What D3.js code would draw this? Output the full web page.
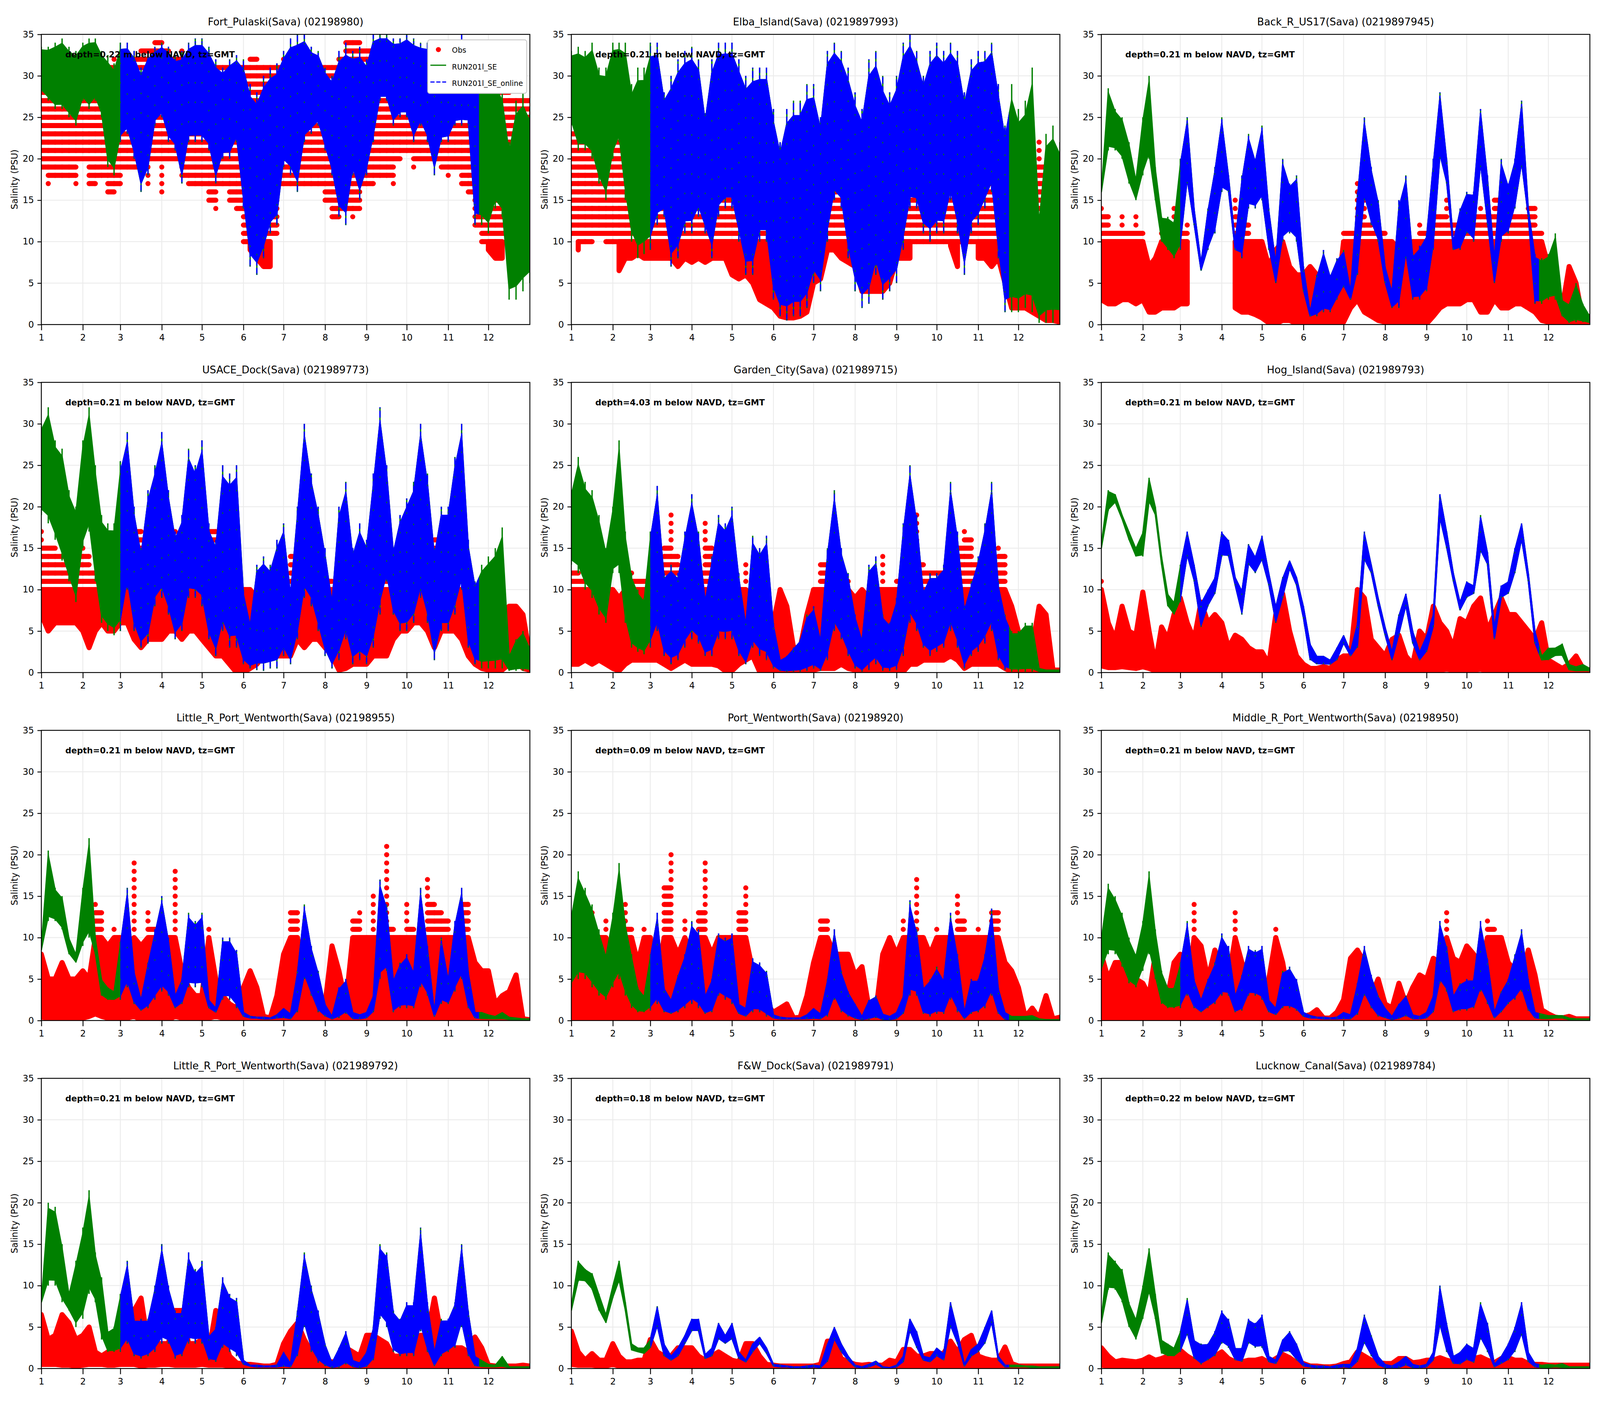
<!DOCTYPE html>
<html>
<head>
<meta charset="utf-8">
<script src="https://cdn.jsdelivr.net/npm/d3@7"></script>
<style>
  html, body { margin: 0; padding: 0; background: #fff; overflow: hidden; }
  text { font-family: "DejaVu Sans"; fill: #000; }
</style>
</head>
<body>
<div id="chart"></div>
<script>
// Month starts in day of year, and six readings per month plus the last day
var monthStarts = [0, 31, 59, 90, 120, 151, 181, 212, 243, 273, 304, 334, 365];
var monthLabels = ["1", "2", "3", "4", "5", "6", "7", "8", "9", "10", "11", "12"];
var salinityTicks = [0, 5, 10, 15, 20, 25, 30, 35];
var onlineDays = [59, 327];

var titles = ["Fort_Pulaski(Sava) (02198980)", "Elba_Island(Sava) (0219897993)", "Back_R_US17(Sava) (0219897945)",
  "USACE_Dock(Sava) (021989773)", "Garden_City(Sava) (021989715)", "Hog_Island(Sava) (021989793)",
  "Little_R_Port_Wentworth(Sava) (02198955)", "Port_Wentworth(Sava) (02198920)", "Middle_R_Port_Wentworth(Sava) (02198950)",
  "Little_R_Port_Wentworth(Sava) (021989792)", "F&W_Dock(Sava) (021989791)", "Lucknow_Canal(Sava) (021989784)"];
var depths = ["0.22", "0.21", "0.21", "0.21", "4.03", "0.21", "0.21", "0.09", "0.21", "0.21", "0.18", "0.22"];
var legendLabels = ["Obs", "RUN201l_SE", "RUN201l_SE_online"];

var p1SimHi = [33.5,33.5,34,34.5,33.5,33, 34,34.5,34.5,33,32.5,31.5, 34,34,33,31,33,33.5, 34,33.5,32.5,33,34,34.5, 34.5,33.5,32,31,32,32.5, 32,29,28,30,31,31.5, 33,34.5,35,35,33.5,33, 31,30,33,34,33,33.5, 32,35,35,35,34.5,34.5, 35,34.5,34,34,33,31, 33,33,35,34,33,30, 30,30,28,22,27,28, 26];
var p1SimLo = [28,27,26,26,25,24, 27,26,27,25,19,18, 22,23,20,16,18,24, 25,22,21,17,22,22, 22,21,17,20,20,22, 14,7,6,8,11,12, 19,18,16,22,23,24, 21,18,13,12,18,15, 18,22,27,27,24,25, 25,22,24,22,18,22, 22,24,24,24,12,12, 11,14,13,3,3,4, 5];
var p1ObsHi = [30,30,29,29,29,28, 28,28,30,30,31,32, 31,31,32,33,33,34, 34,33,32,33,32,32, 32,32,31,31,31,31, 31,32,32,31,31,31, 32,32,32,31,31,31, 31,31,32,34,34,34, 33,33,32,32,32,32, 31,31,31,31,30,30, 30,30,30,30,29,29, 28,28,28,28,27,27, 27];
var p1ObsLo = [19,17,18,18,18,17, 20,17,17,18,16,16, 17,19,19,19,17,20, 16,20,20,18,17,17, 17,15,14,17,15,14, 10,9,8,7,7,11, 17,17,17,17,17,17, 15,13,13,14,13,14, 17,17,18,18,17,20, 21,19,20,20,20,19, 18,19,17,16,12,10, 9,8,8,11,11,11, 11];

var p2SimHi = [33,33.5,33,34,31,31, 34,34,34,29,31,31, 34,34,28,30,32,33, 33.5,32,25.5,32,34,34, 34,32,30,31,31,31, 26,22,26,27,27,29, 29,25,33,34,33,31, 28,26,32,33,30,28, 30,34,35,33,30,33, 34,33,34,33,28,32, 33,33,34,29,24,29, 26,27,31,13,23,24, 22];
var p2SimLo = [24,21,21,20,17,15, 20,22,15,10,8,8.5, 9,12,13,7,8,11, 11,13,11,8,13,14, 14,10,6,6,10,10, 3,1,0.5,1,1,2, 5,4,10,15,14,8, 4,2,2.5,6,3,4, 5,9,14,14,11,10, 11,11,15,11,6,11, 12,14,16,8,1.5,1.5, 1.5,2,1.5,0.2,0.2,0.2, 0.3];
var p2ObsHi = [23,23,23,22,22,22, 23,22,22,22,22,22, 22,22,26,23,22,22, 22,22,22,21,21,21, 22,22,22,23,23,23, 23,21,20,20,20,21, 23,23,25,25,22,22, 22,23,23,22,22,22, 22,22,21,21,20,21, 21,21,20,20,20,21, 22,22,22,23,21,20, 20,20,19,22,19,18, 18];
var p2ObsLo = [11,9,10,10,11,10, 10,6.5,8,8,8.5,8, 8,8,8,8,7,8, 7.5,8,7.5,8,8,8, 6,5.5,6,5,3,2.5, 2,1,0.8,0.8,1,1.5, 5,5.5,9,9,8,7.5, 7,4,4,4,4,5, 8,8,8,10,10,10, 10,10,9.5,7,10,10, 8,8,7,8,5,2, 2,2,1.5,1,0.5,0.5, 0.3];

var p3SimHi = [16,28.5,26,25,22,17.5, 25,30,19,13,13,12.5, 20,25,14,7.5,14,19, 25,18,10,18,23,20, 24,14,7.5,20,17,18, 7,1.5,6,9,6,8, 9,4,16,25,19,15, 7,4,15,18,8.5,9.5, 11,20,28,20,10,14, 16,16,26,18,8,20, 17,20,27,14,8.5,8, 8.5,11,3,2.5,5,2.5, 1];
var p3SimLo = [16,21,21,20,17,15, 18,20,15,10,9,8, 9,17,12,6.5,9,11, 16,16,9,8,14,14, 15,9,5,10,11,10, 4,1,1,1.5,1.5,3, 4.5,3,6,15,12,10, 5,2,2,8,3,3, 4,9,20,17,9,9, 11,10,19,12,5,10, 11,14,19,13,2.5,2.5, 3,3,1,0.2,0.3,0.3, 0.2];
var p3ObsHi = [14,13,11,13,11,13, 11,7,8,11,11,14, 11,12,null,null,null,null, null,null,15,13,12,10, 10,7,9,11,7,6, 6,7,6,2,1.5,3, 11,11,17,15,12,11, 11,10,9,9,10,12, 11,15,13,15,12,12, 13,13,14,13,15,15, 14,13,13,14,14,11, 7,5,2,7,5,0.5, 1];
var p3ObsLo = [3,2.5,2.5,3,3,2.5, 3,1.5,1.5,2,2,2, 2.5,2.5,null,null,null,null, null,null,2,1.5,1.5,1.2, 0.8,0.2,0.1,0.5,0.5,0.1, 0.1,0.1,0.1,0.2,0.2,0.2, 0.3,2,3,1.5,1,0.5, 0.3,0.2,0.2,0.2,0.2,0.1, 0.1,1,2,2.5,2.5,2.5, 3,3,1.5,1.5,3,2, 2,2.5,2.5,2,1.5,0.5, 0.3,0.1,0.1,0.1,0.1,0.1, 0.1];

var p4SimHi = [30,32,28,27,22,20, 28,32,25,19,18,18, 25.5,29,20,15,22,25, 29,22,17,19,27,25, 28,18,16,25,24,25, 10,6,13,14,13,16, 18,10,20,30,24,20, 15,9,20,23,15,18, 16,24,32,25,15,19, 21,23,30,24,15,20, 20,26,30,16,11,13, 14,15,17.5,2,4,5, 3];
var p4SimLo = [19,18,16,13.5,11,8.5, 15,17,11,6,5,4.5, 5,10,5,3,3.5,8, 9,7,4,5,9,9, 8,4,2,5,3,3, 1,0.5,0.3,0.2,0.5,0.5, 2,1,4,9,8,5, 2,0.5,1.5,4,1,1.5, 1,3,7,11,7,5, 5,6,9,6,1.5,5, 5,7,10,3,1,0.5, 0.5,0.5,0.5,0.2,0.2,0.2, 0.2];
var p4ObsHi = [17,15,15,14,14,14, 15,14,12,11,11,11, 12,13,17,17,16,15, 15,15,17,16,15,15, 16,17,17,15,14,13, 10,10,9,8,8,7, 10,14,16,16,14,13, 12,11,10,10,11,12, 13,14,14,15,14,14, 15,15,14,15,16,16, 15,14,14,13,10,8, 6,5,7,8,8,7, 2];
var p4ObsLo = [7,5,6,6,6,6, 5,3,5,6,5,5, 6,6,4,3,4,4, 4,5,5,4,5,5, 4,3,2,2,1,0, 0,0.5,1,2,2,2, 2,2,4,3,4,4, 3,2,0.3,0.5,1,1, 1,2,2,2,4,5, 5,6,6,5,3,5, 5,5,4,2,1,0.5, 0.3,0.3,0.3,1,1.5,0.5, 0.3];

var p5SimHi = [22,26,23,22,19,15, 20,28,17,12,10,9, 17,22.5,12,13,12,17, 21.5,17,9,14,19,18, 20,12,6,16.5,15,16.5, 6,1.5,2,3,4,7, 8,4,15,22,15,12, 7,4,13,14,7,6, 9,18,25,19,10,12, 12,13,23,17,8,11, 14,18,23,11,7,5, 5,6,6,0.5,0.3,0.3, 0.3];
var p5SimLo = [13,12,10,9,7,6, 12,12,6,3,2.5,2.2, 3,5,2,1,1.5,3, 4,3.5,2,2,4,4, 4,2,1,3,2,1.5, 0.5,0.2,0.1,0.1,0.1,0.2, 0.5,0.2,1.5,5,4,2, 0.5,0.1,0.3,1,0.2,0.2, 0.3,2,6,5,3,2, 2.5,3,5,3,0.5,2, 2.5,3.5,5,1.5,0.3,0.1, 0.1,0.1,0.1,0.1,0.1,0.1, 0.1];
var p5ObsHi = [12,12,11,12,11,10, 10,9,10,12,11,11, 11,11,15,19,14,12, 11,12,18,15,10,12, 10,10,13,8,6,8, 6,10,8,3,3,7, 10,13,13,12,12,11, 9,10,9,10,14,10, 11,12,11,19,13,12, 12,12,12,15,17,16, 13,12,12,15,14,8, 5,3,3,8,7,0.3, 0.3];
var p5ObsLo = [1,1,1.5,1,1.5,1, 0.5,0.2,1,1.5,1.5,1.5, 1.5,1.5,1,0.5,1,1.5, 1,1,1,1,0.8,0.2, 0.2,1,1.5,2,0.1,0.1, 0.1,0.1,0.1,0.1,0.1,0.1, 0.3,0.5,0.5,0.5,1,0.5, 0.3,0.1,0.1,0.1,0.1,0.1, 0.1,0.1,1,1,1.5,1.5, 1.5,1.5,2,1.5,0.5,1, 1,1,1,1,0.5,0.1, 0.1,0.1,0.1,0.2,0.5,0.1, 0.1];

var p6SimHi = [15.5,22,21.5,19,17,15, 17,23.5,20,14,9.5,8.5, 13,17,13,8.5,10,11.5, 17,16,11.5,10,15.5,14, 16.5,12,8,11.5,13.5,11.5, 8,3.5,2,2,1.5,3, 4.5,2.5,6,17,13,9, 5.5,2.5,7,9.5,5,2.5, 4.5,7,21.5,17,12,8.5, 11,10.5,19,14.5,5.5,10.5, 11,15,18,12,5,2, 3,3,3.5,1,0.7,1, 0.5];
var p6SimLo = [15,19.5,20.5,18.5,16,14, 14,20.5,19,13,8,7, 8.5,14,11,5.5,8,9.5, 14,14,10.5,7,13,12, 13.5,10.5,6,9,12.5,10.5, 6.5,1.5,1,1,1,1.5, 3.5,2,3,13.5,12,8, 4.5,1.5,4.5,8,3.5,1.5, 2.5,5.5,18.5,15,11,7.5, 9,9.5,14.5,13,4,9, 9.5,12,16,11,3.5,1.5, 1.5,2,2,0.3,0.2,0.2, 0.2];
var p6ObsHi = [11,6,4,8,5,4.5, 9.7,5,1,5.5,4,7, 9,6,4,8.5,6,7, 6,3,4.5,4,3,2.5, 2.5,1,7,9.5,5,2, 1,0.5,0.5,0.7,0.5,1.5, 2,2,10,9,4,3, 2,4,4.5,2,1,5, 4,8,6,5,3,6.5, 6,8,9,5,7,9, 7,7,6,5,4,6, 1.5,1,0.5,1,2,0.5, 0.3];
var p6ObsLo = [0.8,0.6,0.6,0.7,0.6,0.5, 0.7,0.5,0.2,0.1,0.1,0.1, 0.1,0.1,0.4,0.2,0.2,0.2, 0.3,0.3,0.2,0.1,0.1,0.1, 0.1,0.1,0.1,0.2,0.1,0.1, 0.1,0.1,0.1,0.1,0.1,0.1, 0.2,0.2,0.3,0.3,0.2,0.1, 0.1,0.1,0.1,0.1,0.1,0.1, 0.1,0.1,0.3,0.4,0.3,0.3, 0.3,0.3,0.4,0.2,0.1,0.1, 0.2,0.3,0.3,0.2,0.1,0.1, 0.1,0.1,0.1,0.1,0.1,0.1, 0.1];

var p7SimHi = [9,20.5,16,15,10,8, 16,22,10,5,4,3.5, 9.5,16,6,2.5,7,11, 15,10,3,5,13,12, 13,2.5,1.5,10,10,8.5, 1,0.5,0.4,0.4,0.3,0.7, 1.5,0.8,6,14,9,6, 2,0.5,4,5,1,0.7, 1,3,17,14,5,7, 8,6,16,9,1,10, 5,12,16,6,1,1, 0.7,0.5,1,0.4,0.3,0.2, 0.2];
var p7SimLo = [8.5,12,12,11,8,7, 9,10,8,3,2.5,2.5, 2.5,4,2,1.2,1.5,2.5, 3.5,3,1.5,2,4,4, 4,1.5,1,2.5,2.5,1.5, 0.5,0.3,0.3,0.2,0.2,0.3, 0.3,0.2,1,5,3,1, 0.5,0.2,0.3,0.8,0.2,0.2, 0.3,1,5,6,1,1.5, 1.5,1.5,4,3,0.5,2, 2,3.5,5,1.5,0.3,0.2, 0.2,0.2,0.2,0.1,0.1,0.1, 0.1];
var p7ObsHi = [8,5,5,7,5,5, 6,5,14,13,9,11, 10,9,19,9,13,11, 6,10,18,6,4,3, 3,11,5,3,2,1.5, 4,6,4,0.5,0.3,3, 8,13,13,5,4,3, 2,9,6,2,12,13, 10,15,10,21,11,10, 14,11,10,17,14,13, 12,10,14,14,7,6, 6,2,3,3.5,5.5,0.2, 0.1];
var p7ObsLo = [0.4,0.3,0.3,0.3,0.3,0.3, 0.3,0.5,0.8,0.5,0.3,0.1, 0.1,0.3,0.5,0.1,0.1,0.1, 0.1,0.1,0.5,0.3,0.1,0.1, 0.1,0.3,0.5,0.3,0.1,0.1, 0.1,0.1,0.1,0.2,0.2,0.2, 0.2,0.2,0.3,0.3,0.2,0.1, 0.1,0.1,0.1,0.1,0.1,0.1, 0.1,0.1,0.3,0.3,0.2,0.2, 0.2,0.2,0.2,0.2,0.1,0.1, 0.1,0.2,0.2,0.1,0.1,0.1, 0.1,0.1,0.1,0.1,0.1,0.1, 0.1];

var p8SimHi = [13,18,16,14,11,8, 13,19,12,8,4,3, 8,13,4,2.5,5.5,8, 12,11,3,5,10.5,10, 10.5,2,1.5,7.5,7,6, 0.7,0.4,0.3,0.3,0.3,0.7, 1.5,0.8,5,11,6,3.5, 2,0.5,2.5,3,0.8,0.5, 1,3,14.5,11,4,5, 6.5,5,13,8,1,5, 5,8,13.5,4,1,0.5, 0.5,0.5,0.6,0.2,0.1,0.1, 0.1];
var p8SimLo = [4,5,5,4,3,2.5, 4,5,3,1.5,1,1, 1.2,2,1,0.8,1,1.5, 2,1.5,0.8,1,3,2.5, 2,0.8,0.5,1,1,0.5, 0.3,0.2,0.2,0.2,0.2,0.2, 0.2,0.2,0.5,2.5,1,0.5, 0.2,0.1,0.1,0.3,0.1,0.1, 0.2,0.8,3,3,0.8,0.5, 0.8,0.8,2.5,1,0.2,0.8, 1,1.5,3,0.8,0.1,0.1, 0.1,0.1,0.1,0.1,0.1,0.1, 0.1];
var p8ObsHi = [8,6,10,13,10,12, 8,7,14,11,7,11, 10,5,16,20,8,12, 8,13,19,8,10,10, 10,13,16,6,3,2, 1,1.5,2,0.3,0.4,3, 7,12,12,8,8,8, 5.5,6.5,1.5,1,8,10, 8,12,10,17,10,8, 11,10,10,15,12,10, 11,10,13,13,7,6, 4,0.4,1.5,0.3,3,0.2, 0.4];
var p8ObsLo = [0.3,0.2,0.2,0.2,0.2,0.2, 0.2,0.2,0.3,0.2,0.2,0.1, 0.1,0.2,0.2,0.2,0.1,0.1, 0.2,0.2,0.2,0.2,0.2,0.2, 0.2,0.2,0.1,0.1,0.1,0.1, 0.1,0.1,0.1,0.1,0.1,0.1, 0.1,0.1,0.2,0.2,0.1,0.1, 0.1,0.1,0.1,0.1,0.1,0.1, 0.1,0.1,0.2,0.2,0.2,0.2, 0.2,0.2,0.2,0.2,0.1,0.1, 0.1,0.2,0.2,0.1,0.1,0.1, 0.1,0.1,0.1,0.1,0.1,0.1, 0.1];

var p9SimHi = [10,16.5,15,13,10,8, 12,18,11,6,4,4, 7,12,5,2.5,5,7, 10.5,9,3,5.5,9,8.5, 9,2.5,1.5,6,6.5,5, 1,0.6,0.4,0.4,0.3,0.4, 1,0.7,4.5,9,5.5,3, 1.5,0.5,2,3,0.7,0.5, 1,3,12,9,3,4.5, 5,5,12,7.5,1,3.5, 5,8,11,5,1,0.8, 0.6,0.6,0.6,0.3,0.2,0.2, 0.2];
var p9SimLo = [6,8,8,6.5,4.5,4, 6,8,5,2,1.5,1.5, 1.5,3,1.5,1,1.5,2, 3,3,1,1.2,3,3, 2.5,1,0.7,1.5,1.5,1.2, 0.5,0.3,0.3,0.2,0.2,0.2, 0.2,0.2,0.7,3,1.5,0.5, 0.3,0.1,0.2,0.5,0.2,0.2, 0.3,1,4.5,3.5,1,1.2, 1.2,1.5,3.5,2,0.3,1, 2,2.5,3.5,1.2,0.3,0.2, 0.2,0.3,0.3,0.1,0.1,0.1, 0.1];
var p9ObsHi = [8,5,7,7,5,5, 4.5,3,8,4,3,7, 8,3,14,9,5,8.5, 6,5,13,7,5,3, 3,5,11,7,2,1, 0.5,0.7,1.3,0.3,0.3,1, 2.5,7.5,8.5,7,3,5, 2,1.5,4.5,2,4,5.5, 5,7.5,7,13,7.5,7, 9,8,6.5,12,11,10, 7,6,5,8.5,5.5,1.3, 0.8,0.4,0.3,0.5,0.2,0.2, 0.2];
var p9ObsLo = [0.3,0.2,0.2,0.2,0.2,0.2, 0.2,0.2,0.2,0.2,0.2,0.1, 0.1,0.2,0.2,0.2,0.1,0.1, 0.2,0.2,0.2,0.2,0.2,0.2, 0.2,0.2,0.1,0.1,0.1,0.1, 0.1,0.1,0.1,0.1,0.1,0.1, 0.1,0.1,0.2,0.2,0.1,0.1, 0.1,0.1,0.1,0.1,0.1,0.1, 0.1,0.1,0.2,0.2,0.2,0.2, 0.2,0.2,0.2,0.2,0.1,0.1, 0.1,0.2,0.2,0.1,0.1,0.1, 0.1,0.1,0.1,0.1,0.1,0.1, 0.1];

var p10SimHi = [8,20,19.5,15,9,13, 17,21.5,14,11,4.5,5, 9,13,6,6,6,10, 15,10,7,7,14,12, 13,4,5,11,9,8.5, 1,0.4,0.4,0.3,0.3,0.4, 2,0.6,7,14,10,7, 3,0.7,2.5,4.5,1,0.7, 2,5,15,14,7,6, 8,8,17,8,2,6, 6,8,15,7,1.5,1, 0.5,0.4,1.5,0.2,0.2,0.2, 0.2];
var p10SimLo = [8,10,10,8,7,5, 6,9,8,3.5,2,2, 2,3,1.5,1.2,1.5,2, 3,3,1.2,1.5,3,3, 3,1,0.8,2.5,2,1.5, 0.5,0.3,0.2,0.2,0.2,0.2, 0.2,0.2,1.5,5,2,0.7, 0.3,0.1,0.1,0.5,0.2,0.1, 0.2,1,6,5,2,1.5, 1.5,1.5,4.5,2,0.3,1.5, 2,2.5,5,1.5,0.3,0.2, 0.2,0.2,0.2,0.1,0.1,0.1, 0.1];
var p10ObsHi = [6.5,3.5,4,6.5,5.5,3.5, 4,5,2,1.5,2,2, 3,3,7,8.5,3,3, 3,3,7,7,3,3, 3.5,2,7,4,1.5,0.7, 0.5,0.5,0.4,0.3,0.3,0.5, 3,4.5,5.5,3.5,2,1.5, 1,0.8,0.8,2.5,2,1.5, 4,4,3.5,3,1.5,1.5, 2,2.5,4,4,8.5,4, 3,2.5,2.5,2,3.8,2.5, 0.4,0.3,0.3,0.3,0.3,0.4, 0.3];
var p10ObsLo = [0.5,0.5,0.5,0.4,0.4,0.3, 0.4,0.5,0.5,0.5,0.4,0.4, 0.5,0.5,0.5,0.3,0.4,0.4, 0.5,0.5,0.4,0.4,0.4,0.4, 0.5,0.4,0.4,0.4,0.3,0.2, 0.1,0.1,0.1,0.1,0.1,0.1, 0.1,0.1,0.3,0.3,0.2,0.1, 0.1,0.1,0.1,0.1,0.1,0.1, 0.1,0.2,0.3,0.3,0.3,0.3, 0.3,0.3,0.3,0.3,0.1,0.2, 0.3,0.3,0.3,0.2,0.1,0.1, 0.1,0.1,0.1,0.1,0.1,0.1, 0.1];

var p11SimHi = [7.5,13,12,11.5,9,6.5, 10,13,8,3,2.5,2.5, 3.5,7.5,3,1.5,2.5,4, 6,6,1.7,2.5,5.5,4, 5.5,2,1,3,3.8,2.5, 0.5,0.4,0.3,0.2,0.2,0.3, 0.4,0.3,3,5,3,1.5, 0.4,0.2,0.5,0.9,0.2,0.1, 0.4,1.5,6,4.5,1.5,1.3, 2.5,1.8,8,4.5,0.5,2.3, 3,5,7,1.5,0.4,0.4, 0.4,0.3,0.3,0.2,0.2,0.2, 0.2];
var p11SimLo = [7,10.5,10.5,9.5,7,5.5, 8.5,10.5,7,2.2,2,1.8, 2.5,5,1.5,1,1.5,3, 4.5,4.5,1.2,1.5,3.5,3, 3.5,1.2,0.8,2,3,1.8, 0.3,0.2,0.2,0.1,0.1,0.1, 0.2,0.1,0.8,3.5,2,1, 0.2,0.1,0.2,0.5,0.1,0.1, 0.2,0.8,4.5,2.5,1,0.8, 1.5,1,5,3,0.3,1.5, 2,3,5.5,1,0.2,0.2, 0.2,0.2,0.1,0.1,0.1,0.1, 0.1];
var p11ObsHi = [4.5,2,1,1.8,1,1, 3,1.5,0.8,0.8,1,1, 3.5,2,1.5,1.5,2.5,2.5, 2.5,1.5,1,1.5,2,1.5, 1,0.8,3,3,1.5,0.5, 0.4,0.3,0.3,0.3,0.3,0.3, 0.3,0.5,3.3,3.3,1.2,0.8, 0.5,0.4,0.5,0.4,0.4,1, 0.8,2.3,2.3,1.5,1.5,1.8, 1.8,1.8,3.3,2,3.5,4, 1.5,1.2,1,1,2.6,0.6, 0.3,0.3,0.3,0.3,0.3,0.3, 0.3];
var p11ObsLo = [0.5,0.4,0.4,0.4,0.3,0.3, 0.5,0.3,0.2,0.2,0.3,0.3, 0.3,0.3,0.3,0.3,0.3,0.3, 0.3,0.3,0.3,0.3,0.3,0.3, 0.3,0.3,0.2,0.2,0.2,0.1, 0.1,0.1,0.1,0.1,0.1,0.1, 0.1,0.1,0.2,0.2,0.2,0.1, 0.1,0.1,0.1,0.1,0.1,0.1, 0.1,0.2,0.2,0.2,0.2,0.2, 0.2,0.2,0.2,0.2,0.2,0.2, 0.2,0.2,0.2,0.2,0.2,0.1, 0.1,0.1,0.1,0.1,0.1,0.1, 0.1];

var p12SimHi = [6,14,13,12,8,6, 10,14.5,9,3.5,3,2.5, 4.5,8.5,3.5,3,3,4.5, 7,6,2.5,2.5,6,5.5, 6.5,1.5,1,3.5,4.5,3, 0.7,0.4,0.3,0.3,0.2,0.4, 0.5,0.5,2.5,6.5,4,1.5, 0.5,0.3,0.8,1.5,0.5,0.3, 0.5,2,10,5.5,1.5,2, 3,2.5,8,5.5,0.5,1.5, 3,5,8,2,0.6,0.4, 0.5,0.4,0.6,0.2,0.2,0.2, 0.2];
var p12SimLo = [5.5,9.5,9.5,8,5,3.5, 6,9,6,1.8,1.5,1.5, 2,4,1.2,0.5,1,1.5, 3,2.5,1,0.8,3,2.5, 2.5,0.8,0.6,2,2,1, 0.3,0.2,0.1,0.1,0.1,0.1, 0.2,0.1,0.8,3,1.5,0.4, 0.1,0.1,0.1,0.4,0.1,0.1, 0.2,1,5,2,0.6,0.5, 1,0.7,3.5,2,0.2,0.6, 1,2,4,0.8,0.2,0.1, 0.1,0.2,0.1,0.1,0.1,0.1, 0.1];
var p12ObsHi = [2.5,1.5,0.8,1,0.9,0.8, 1,1.4,1,1.2,1.5,1.5, 2.2,1.5,1,1,1,1.5, 2,1.2,0.8,0.8,1,1, 1.2,0.7,1.2,1.7,1.3,0.7, 0.6,0.3,0.3,0.2,0.2,0.3, 0.6,0.8,2,1.5,1,0.7, 0.6,0.6,1.2,1.2,0.7,0.8, 1,1,1.3,1,0.8,0.9, 1,1.2,1.4,1,0.7,1.2, 1.3,1,1,0.6,0.5,0.5, 0.4,0.4,0.4,0.4,0.4,0.4, 0.4];
var p12ObsLo = [0.4,0.3,0.3,0.3,0.3,0.3, 0.3,0.3,0.3,0.3,0.3,0.3, 0.3,0.3,0.3,0.3,0.3,0.3, 0.3,0.3,0.2,0.2,0.2,0.2, 0.2,0.2,0.2,0.2,0.2,0.1, 0.1,0.1,0.1,0.1,0.1,0.1, 0.1,0.1,0.2,0.2,0.1,0.1, 0.1,0.1,0.1,0.1,0.1,0.1, 0.1,0.2,0.2,0.2,0.2,0.2, 0.2,0.2,0.2,0.2,0.2,0.2, 0.2,0.2,0.2,0.1,0.1,0.1, 0.1,0.1,0.1,0.1,0.1,0.1, 0.1];

var simHi = [p1SimHi, p2SimHi, p3SimHi, p4SimHi, p5SimHi, p6SimHi, p7SimHi, p8SimHi, p9SimHi, p10SimHi, p11SimHi, p12SimHi];
var simLo = [p1SimLo, p2SimLo, p3SimLo, p4SimLo, p5SimLo, p6SimLo, p7SimLo, p8SimLo, p9SimLo, p10SimLo, p11SimLo, p12SimLo];
var obsHi = [p1ObsHi, p2ObsHi, p3ObsHi, p4ObsHi, p5ObsHi, p6ObsHi, p7ObsHi, p8ObsHi, p9ObsHi, p10ObsHi, p11ObsHi, p12ObsHi];
var obsLo = [p1ObsLo, p2ObsLo, p3ObsLo, p4ObsLo, p5ObsLo, p6ObsLo, p7ObsLo, p8ObsLo, p9ObsLo, p10ObsLo, p11ObsLo, p12ObsLo];

// Day of year of each reading: six per month, and the last day
var sampleDays = [];
for (var m = 0; m < 12; m++) {
  for (var k = 0; k < 6; k++) sampleDays.push(monthStarts[m] + k / 6 * (monthStarts[m + 1] - monthStarts[m]));
}
sampleDays.push(365);

// The layout is worked out for 6000x3600 and follows the real window, which can be smaller
var W = window.innerWidth, H = window.innerHeight;
var sx = W / 6000, sy = H / 3600;

var panelW = 1832 * sx, panelH = 743 * sy;
var colX = [155 * sx, 2142.5 * sx, 4130 * sx], rowY = [88 * sy, 979 * sy, 1870 * sy, 2761 * sy];

var x = d3.scaleLinear().domain([0, 365]).range([0, panelW]);
var y = d3.scaleLinear().domain([0, 35]).range([panelH, 0]);

var svg = d3.select("#chart").append("svg")
  .attr("width", W)
  .attr("height", H)
  .style("display", "block");

titles.forEach(function(title, p) {
  var g = svg.append("g")
    .attr("transform", "translate(" + colX[p % 3] + "," + rowY[Math.floor(p / 3)] + ")");
  drawPanel(g, p, title);
});

function drawPanel(g, p, title) {
  var hi = simHi[p], lo = simLo[p], oHi = obsHi[p], oLo = obsLo[p];
  var idx = d3.range(sampleDays.length);
  var thin = 3.3 * sx, modelWidth = 5 * sx, dotSize = 13 * sy;

  // Grid first, everything else goes on top
  g.selectAll(".gx").data(monthStarts.slice(0, 12)).enter().append("line")
    .attr("x1", function(d) { return x(d); }).attr("x2", function(d) { return x(d); })
    .attr("y1", 0).attr("y2", panelH)
    .style("stroke", "#ebebeb").style("stroke-width", thin);
  g.selectAll(".gy").data(salinityTicks).enter().append("line")
    .attr("x1", 0).attr("x2", panelW)
    .attr("y1", function(d) { return y(d); }).attr("y2", function(d) { return y(d); })
    .style("stroke", "#ebebeb").style("stroke-width", thin);

  // Clip to the axes, and the online run to the days it covers
  svg.append("clipPath").attr("id", "clip" + p).append("rect")
    .attr("width", panelW).attr("height", panelH);
  svg.append("clipPath").attr("id", "clipOnline" + p).append("rect")
    .attr("x", x(onlineDays[0])).attr("width", x(onlineDays[1]) - x(onlineDays[0])).attr("height", panelH);

  var plot = g.append("g").attr("clip-path", "url(#clip" + p + ")");

  // Observations: solid below 10, whole numbers only above that
  var obsArea = d3.area()
    .defined(function(i) { return oHi[i] !== null && oLo[i] < 10; })
    .x(function(i) { return x(sampleDays[i]); })
    .y0(function(i) { return y(oLo[i]); })
    .y1(function(i) { return y(Math.min(oHi[i], 10)); });
  plot.append("path")
    .attr("d", obsArea(idx))
    .style("fill", "red").style("stroke", "red").style("stroke-width", dotSize).style("stroke-linejoin", "round");

  var covered = function(i, v) { return i < sampleDays.length && oHi[i] !== null && oLo[i] <= v && oHi[i] >= v; };
  var dots = [], runs = [];
  d3.range(10, 36).forEach(function(v) {
    sampleDays.forEach(function(d, i) {
      if (covered(i, v)) {
        dots.push({day: d, value: v});
        if (covered(i + 1, v)) runs.push({day: d, next: sampleDays[i + 1], value: v});
      }
    });
  });
  plot.selectAll(".obsRun").data(runs).enter().append("line")
    .attr("x1", function(d) { return x(d.day); }).attr("x2", function(d) { return x(d.next); })
    .attr("y1", function(d) { return y(d.value); }).attr("y2", function(d) { return y(d.value); })
    .style("stroke", "red").style("stroke-width", dotSize);
  plot.selectAll(".obsDot").data(dots).enter().append("circle")
    .attr("cx", function(d) { return x(d.day); })
    .attr("cy", function(d) { return y(d.value); })
    .attr("r", dotSize / 2)
    .style("fill", "red");

  // Model runs: a solid middle of the tide, with the highs and lows standing out as spikes
  var coreArea = d3.area()
    .x(function(i) { return x(sampleDays[i]); })
    .y0(function(i) { return y(lo[i] + 0.07 * (hi[i] - lo[i])); })
    .y1(function(i) { return y(hi[i] - 0.07 * (hi[i] - lo[i])); });
  var spikes = idx.map(function(i) {
    return "M" + x(sampleDays[i]) + "," + y(lo[i]) + "L" + x(sampleDays[i]) + "," + y(hi[i]);
  }).join("");

  plot.append("path").attr("d", coreArea(idx))
    .style("fill", "green").style("stroke", "green").style("stroke-width", modelWidth).style("stroke-linejoin", "round");
  plot.append("path").attr("d", spikes)
    .style("fill", "none").style("stroke", "green").style("stroke-width", modelWidth);

  var online = plot.append("g").attr("clip-path", "url(#clipOnline" + p + ")");
  online.append("path").attr("d", coreArea(idx))
    .style("fill", "blue").style("stroke", "blue").style("stroke-width", modelWidth).style("stroke-linejoin", "round");
  online.append("path").attr("d", spikes)
    .style("fill", "none").style("stroke", "blue").style("stroke-width", modelWidth).style("stroke-dasharray", (18 * sy) + "," + (6 * sy));
  // the run below shows through the gaps of the dashes
  online.append("path").attr("d", spikes)
    .style("fill", "none").style("stroke", "green").style("stroke-width", 3 * sx).style("stroke-dasharray", (4 * sy) + "," + (46 * sy));

  // Axes
  var xAxis = g.append("g").attr("transform", "translate(0," + panelH + ")")
    .call(d3.axisBottom(x).tickValues(monthStarts.slice(0, 12)).tickFormat(function(d, i) { return monthLabels[i]; }).tickSize(14.6 * sy).tickPadding(10 * sy));
  var yAxis = g.append("g")
    .call(d3.axisLeft(y).tickValues(salinityTicks).tickSize(14.6 * sx).tickPadding(13 * sx));
  [xAxis, yAxis].forEach(function(a) {
    a.select(".domain").remove();
    a.selectAll("line").style("stroke", "#000").style("stroke-width", thin);
    a.selectAll("text").style("font-family", "DejaVu Sans").style("font-size", (33.3 * sx) + "px");
  });
  g.append("rect").attr("width", panelW).attr("height", panelH)
    .style("fill", "none").style("stroke", "#000").style("stroke-width", thin);

  // Texts
  g.append("text")
    .attr("x", panelW / 2).attr("y", -23 * sy)
    .style("text-anchor", "middle").style("font-size", (38 * sx) + "px")
    .text(title);
  g.append("text")
    .attr("x", 90 * sx).attr("y", 59 * sy)
    .style("font-weight", "bold").style("font-size", (31.3 * sx) + "px")
    .text("depth=" + depths[p] + " m below NAVD, tz=GMT");
  g.append("text")
    .attr("transform", "translate(" + (-89 * sx) + "," + panelH / 2 + ") rotate(-90)")
    .style("text-anchor", "middle").style("font-size", (33.3 * sx) + "px")
    .text("Salinity (PSU)");

  if (p === 0) drawLegend(g);
}

// Legend box sits in the top right corner of the first panel
function drawLegend(g) {
  var lg = g.append("g").attr("transform", "translate(" + (1449 * sx) + "," + (14 * sy) + ")");
  lg.append("rect").attr("width", 371 * sx).attr("height", 137 * sy).attr("rx", 8 * sx)
    .style("fill", "#fff").style("stroke", "#ccc").style("stroke-width", 3.3 * sx);
  lg.append("circle").attr("cx", 40 * sx).attr("cy", 25 * sy).attr("r", 6.5 * sy).style("fill", "red");
  lg.append("line").attr("x1", 10 * sx).attr("x2", 69 * sx).attr("y1", 65 * sy).attr("y2", 65 * sy)
    .style("stroke", "green").style("stroke-width", 4.2 * sx);
  lg.append("line").attr("x1", 10 * sx).attr("x2", 69 * sx).attr("y1", 108 * sy).attr("y2", 108 * sy)
    .style("stroke", "blue").style("stroke-width", 4.2 * sx).style("stroke-dasharray", (15.5 * sx) + "," + (6.7 * sx));
  legendLabels.forEach(function(label, i) {
    lg.append("text").attr("x", 91 * sx).attr("y", (33 + i * 42.5) * sy)
      .style("font-size", (27.5 * sx) + "px").text(label);
  });
}
</script>
</body>
</html>
